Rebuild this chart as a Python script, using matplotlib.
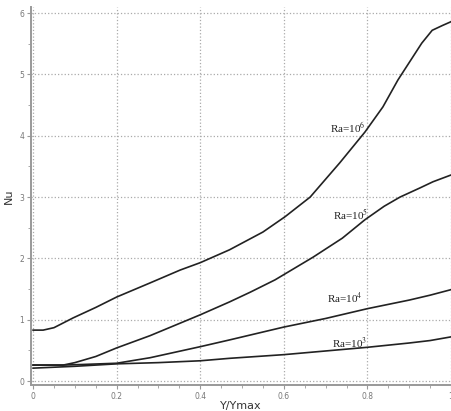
import numpy as np
import matplotlib
matplotlib.use("Agg")
import matplotlib.pyplot as plt
from matplotlib.ticker import MultipleLocator

plt.rcParams['mathtext.fontset'] = 'stix'

# Nusselt number profiles along the wall
x_ra6 = [0, 0.024, 0.05, 0.096, 0.15, 0.2, 0.28, 0.352, 0.4, 0.47, 0.55, 0.603,
         0.663, 0.734, 0.794, 0.837, 0.873, 0.93, 0.955, 0.98, 1.0]
nu_ra6 = [0.83, 0.83, 0.87, 1.03, 1.20, 1.37, 1.60, 1.81, 1.93, 2.14, 2.43, 2.68,
          3.00, 3.56, 4.06, 4.47, 4.91, 5.51, 5.72, 5.80, 5.86]

x_ra5 = [0, 0.072, 0.1, 0.15, 0.2, 0.28, 0.34, 0.4, 0.47, 0.52, 0.579, 0.67,
         0.74, 0.794, 0.84, 0.878, 0.926, 0.957, 1.0]
nu_ra5 = [0.26, 0.26, 0.30, 0.40, 0.54, 0.74, 0.91, 1.08, 1.29, 1.45, 1.65, 2.02,
          2.33, 2.63, 2.85, 3.00, 3.15, 3.25, 3.36]

x_ra4 = [0, 0.07, 0.12, 0.2, 0.28, 0.4, 0.47, 0.6, 0.7, 0.8, 0.9, 0.95, 1.0]
nu_ra4 = [0.26, 0.26, 0.27, 0.29, 0.38, 0.56, 0.67, 0.88, 1.02, 1.18, 1.32, 1.40, 1.49]

x_ra3 = [0, 0.1, 0.2, 0.3, 0.4, 0.47, 0.6, 0.7, 0.8, 0.9, 0.95, 1.0]
nu_ra3 = [0.21, 0.24, 0.28, 0.30, 0.33, 0.37, 0.43, 0.49, 0.55, 0.62, 0.66, 0.72]

labels = ["Ra=10$^{6}$", "Ra=10$^{5}$", "Ra=10$^{4}$", "Ra=10$^{3}$"]
label_xy = [(0.754, 4.13), (0.759, 2.71), (0.746, 1.35), (0.758, 0.62)]

fig = plt.figure(figsize=(4.51, 4.11), dpi=100)
ax = fig.add_axes([31 / 451, 26 / 411, 420 / 451, 378 / 411])

for xs, ys in [(x_ra6, nu_ra6), (x_ra5, nu_ra5), (x_ra4, nu_ra4), (x_ra3, nu_ra3)]:
    ax.plot(xs, ys, color='#222222', linewidth=1.2)

for lab, (lx, ly) in zip(labels, label_xy):
    ax.text(lx, ly, lab, fontsize=8, family='Liberation Serif', color='#222222',
            ha='center', va='center')

ax.set_xlim(-0.005, 1.0)
ax.set_ylim(-0.065, 6.1)
ax.xaxis.set_major_locator(MultipleLocator(0.2))
ax.xaxis.set_minor_locator(MultipleLocator(0.05))
ax.yaxis.set_major_locator(MultipleLocator(1))
ax.yaxis.set_minor_locator(MultipleLocator(0.5))
ax.xaxis.set_major_formatter(plt.FuncFormatter(lambda v, p: f"{v:g}"))

ax.grid(True, which='major', color='#aaaaaa', linestyle=':', linewidth=0.9)
for side in ['top', 'right']:
    ax.spines[side].set_visible(False)
for side in ['left', 'bottom']:
    ax.spines[side].set_color('#999999')
    ax.spines[side].set_linewidth(1.4)
ax.tick_params(which='both', colors='#999999', labelsize=5.5, labelcolor='#777777', pad=2)
ax.tick_params(which='major', length=3)
ax.tick_params(which='minor', length=2)

ax.set_xlabel('Y/Ymax', fontsize=8, color='#333333', labelpad=0)
ax.set_ylabel('Nu', fontsize=8, color='#333333', labelpad=4)

fig.savefig('out.png', dpi=100)
